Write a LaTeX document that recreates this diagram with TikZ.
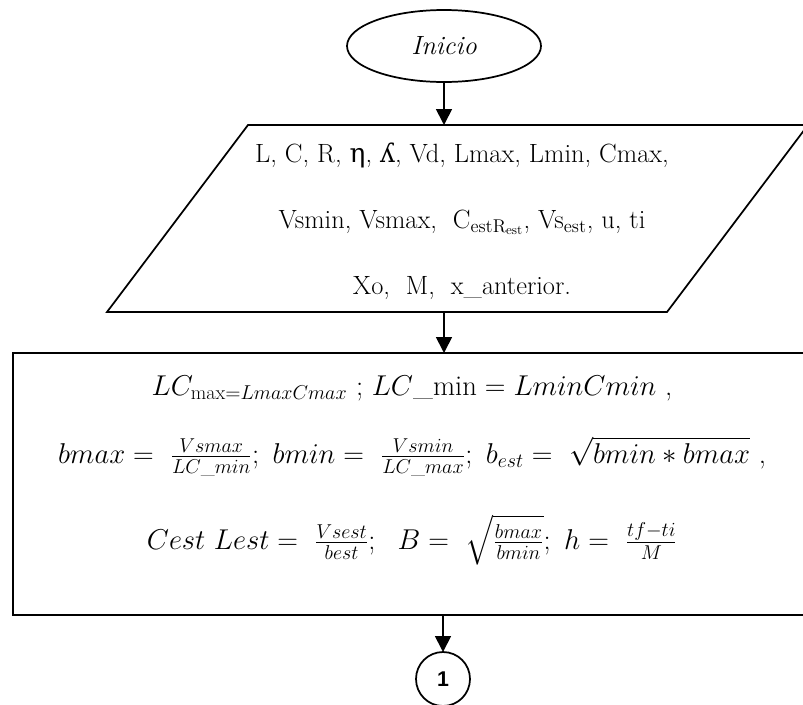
\RequirePackage{fix-cm}
\documentclass[tikz,border=0pt]{standalone}
\usepackage{fontspec}
\usepackage{amsmath}
\newfontfamily\ipafont{DejaVu Serif}
\newfontfamily\numfont{Liberation Sans}
\usetikzlibrary{shapes.geometric, arrows.meta, positioning}

\begin{document}
\begin{tikzpicture}[
  x=0.75pt, y=-0.75pt,
  base/.style={draw, line width=1.3pt, inner sep=0pt, outer sep=0pt, align=center, font=\fontsize{19.8}{24}\selectfont},
  terminal/.style={base, ellipse, minimum width=145.5pt, minimum height=54pt},
  iotext/.style={inner sep=0pt, align=center, font=\fontsize{19.8}{49.5}\selectfont},
  process/.style={base, rectangle, minimum width=598.5pt, minimum height=196.5pt, font=\fontsize{21.5}{26}\selectfont},
  conn/.style={base, circle, minimum size=40.5pt, font=\numfont\bfseries\fontsize{16}{18}\selectfont},
  flow/.style={-{Triangle[length=12pt, width=12pt]}, line width=1.3pt}
]
  \useasboundingbox (0,0) rectangle (803,704);
  \clip (0,0) rectangle (803,704);

  % Start
  \node[terminal] (inicio) at (444, 46) {\textit{Inicio}};

  % Data input
  \draw[line width=1.3pt] (248,125) -- (808,125) -- (667,312) -- (107,312) -- cycle;
  \coordinate (datos-top) at (444,125);
  \coordinate (datos-bottom) at (444,312);
  \node[iotext] (datos) at (462, 221) {
    L, C, R, {\ipafont η}, {\ipafont ʎ}, Vd, Lmax, Lmin, Cmax,\\
    Vsmin, Vsmax,\ \ C$_{\mathrm{estR}_{\mathrm{est}}}$, Vs$_{\mathrm{est}}$, u, ti\\
    Xo,\ \ M,\ \ x\_anterior.
  };

  % Calculation
  \node[process] (calculo) at (412, 484) {
    $LC_{\mathrm{max}=LmaxCmax}$ ; $LC\_\mathrm{min} = LminCmin$ ,\\[25pt]
    $bmax =\ \frac{Vsmax}{LC\_min};\ bmin =\ \frac{Vsmin}{LC\_max};\ b_{est} =\ \sqrt{bmin * bmax}$ ,\\[28pt]
    $Cest\ Lest =\ \frac{Vsest}{best};\ \ B =\ \sqrt{\frac{bmax}{bmin}};\ h =\ \frac{tf-ti}{M}$\\[6pt]
  };

  % Connector
  \node[conn] (conector) at (443, 679) {1};

  \draw[flow] (inicio.south) -- (datos-top);
  \draw[flow] (datos-bottom) -- (datos-bottom |- calculo.north);
  \draw[flow] (conector.north |- calculo.south) -- (conector.north);
\end{tikzpicture}
\end{document}
